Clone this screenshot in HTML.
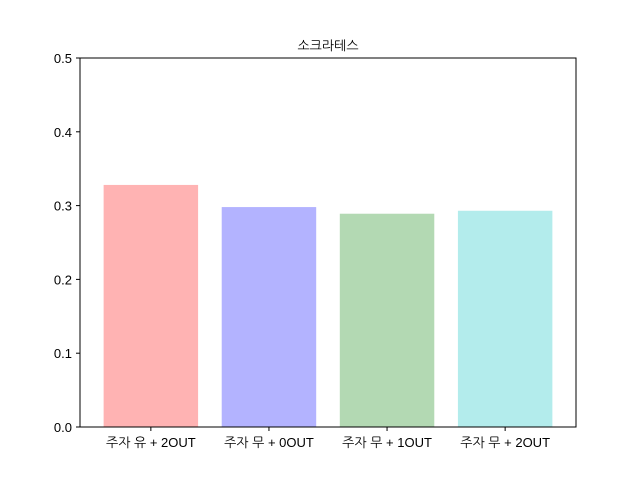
<!DOCTYPE html>
<html><head><meta charset="utf-8"><style>
body{margin:0;background:#fff;}
text{font-family:"Liberation Sans","NanumGothic","Noto Sans CJK KR",sans-serif;font-size:13px;fill:#000;}
</style></head><body>
<svg id="chart" width="640" height="480" xmlns="http://www.w3.org/2000/svg">
<rect width="640" height="480" fill="#fff"/>
<text x="328" y="50" text-anchor="middle">소크라테스</text>
<g id="bars"></g>
<g id="axes"></g>
<rect x="80" y="58" width="496" height="369" fill="none" stroke="#000" stroke-width="1"/>
</svg>
<script>
const categories = ["주자 유 + 2OUT","주자 무 + 0OUT","주자 무 + 1OUT","주자 무 + 2OUT"];
const values = [0.328, 0.298, 0.289, 0.293];
const colors = ["#ffb3b3","#b3b3ff","#b3d9b3","#b3ecec"];
const yTicks = [0,0.1,0.2,0.3,0.4,0.5];
const yTickLabels = ["0.0","0.1","0.2","0.3","0.4","0.5"];

const L=80,R=576,T=58,B=427;
const x=v=>L+(v+0.6)/4.2*(R-L);
const y=v=>B-v/0.5*(B-T);
const ns="http://www.w3.org/2000/svg";
const bars=document.getElementById('bars'), axes=document.getElementById('axes');
values.forEach((v,i)=>{
  const r=document.createElementNS(ns,'rect');
  r.setAttribute('x',x(i-0.4));r.setAttribute('width',x(i+0.4)-x(i-0.4));
  r.setAttribute('y',y(v));r.setAttribute('height',y(0)-y(v));
  r.setAttribute('fill',colors[i]);
  
  
  bars.appendChild(r);
  const tk=document.createElementNS(ns,'line');
  tk.setAttribute('x1',x(i));tk.setAttribute('x2',x(i));tk.setAttribute('y1',B);tk.setAttribute('y2',B+4);tk.setAttribute('stroke','#000');
  
  
  axes.appendChild(tk);
  const t=document.createElementNS(ns,'text');
  t.setAttribute('x',x(i));t.setAttribute('y',B+20);t.setAttribute('text-anchor','middle');
  t.textContent=categories[i];
  
  
  axes.appendChild(t);
});
yTicks.forEach((v,i)=>{
  const tk=document.createElementNS(ns,'line');
  tk.setAttribute('x1',L-4);tk.setAttribute('x2',L);tk.setAttribute('y1',y(v));tk.setAttribute('y2',y(v));tk.setAttribute('stroke','#000');
  
  
  axes.appendChild(tk);
  const t=document.createElementNS(ns,'text');
  t.setAttribute('x',L-8);t.setAttribute('y',y(v)+5);t.setAttribute('text-anchor','end');
  t.textContent=yTickLabels[i];
  
  
  axes.appendChild(t);
});
</script>
</body></html>
